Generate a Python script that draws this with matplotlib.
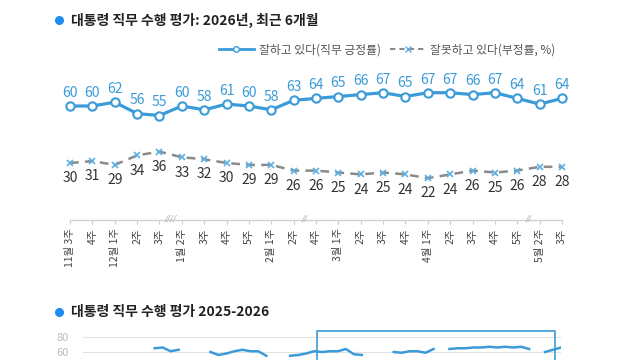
import numpy as np
import matplotlib
matplotlib.use("Agg")
import matplotlib.pyplot as plt
from matplotlib.lines import Line2D
from matplotlib.patches import Rectangle

plt.rcParams['font.family'] = ['Noto Sans CJK KR', 'DejaVu Sans']

# ---- data ----
week_labels = ["11월 3주", "4주", "12월 1주", "2주", "3주",
               "1월 2주", "3주", "4주", "5주", "2월 1주",
               "2주", "4주", "3월 1주", "2주", "3주", "4주",
               "4월 1주", "2주", "3주", "4주", "5주",
               "5월 2주", "3주"]
approve = [60, 60, 62, 56, 55, 60, 58, 61, 60, 58, 63, 64, 65, 66, 67, 65, 67, 67, 66, 67, 64, 61, 64]
disapprove = [30, 31, 29, 34, 36, 33, 32, 30, 29, 29, 26, 26, 25, 24, 25, 24, 22, 24, 26, 25, 26, 28, 28]
breaks = [(4.5, "////"), (10.5, "//"), (20.5, "//")]

title_top = "대통령 직무 수행 평가: 2026년, 최근 6개월"
title_bottom = "대통령 직무 수행 평가 2025-2026"
legend_labels = ["잘하고 있다(직무 긍정률)", "잘못하고 있다(부정률, %)"]

# long-term series (2025-2026), NaN = no survey
long_vals = [np.nan] * 61
for i, v in zip(range(9, 13), [65, 66, 61, 63]):
    long_vals[i] = v
for i, v in zip(range(16, 24), [60, 56, 58, 61, 63, 61, 61, 55]):
    long_vals[i] = v
for i, v in zip(range(26, 36), [55, 56, 58, 61, 60, 61, 61, 64, 57, 56]):
    long_vals[i] = v
for i, v in zip(range(39, 45), [60, 59, 61, 61, 59, 64]):
    long_vals[i] = v
for i, v in zip(range(46, 57), [64, 65, 65, 66, 66, 67, 66, 67, 66, 67, 64]):
    long_vals[i] = v
for i, v in zip(range(58, 61), [60, 63, 66]):
    long_vals[i] = v
long_ticks = [60, 80]
box_range = (29.4, 59.3)

BLUE = "#3b9bd8"
DOT = "#1e8cf0"
GRAY = "#8a8a8a"

W, H = 640, 360
fig = plt.figure(figsize=(6.4, 3.6), dpi=100)

def fx(px):
    return px / W

def fy(py):
    return 1 - py / H

# ---- titles ----
fig.add_artist(Line2D([fx(59)], [fy(20)], marker='o', markersize=5.5, color=DOT,
                      transform=fig.transFigure))
fig.text(fx(71), fy(20), title_top, fontsize=10, fontweight='bold', color='#222222',
         va='center', ha='left')
fig.add_artist(Line2D([fx(59)], [fy(312)], marker='o', markersize=5.5, color=DOT,
                      transform=fig.transFigure))
fig.text(fx(71), fy(312), title_bottom, fontsize=10, fontweight='bold', color='#222222',
         va='center', ha='left')

# ---- main chart ----
ax = fig.add_axes([fx(65), fy(220), (567 - 65) / W, (220 - 68) / H])
x = np.arange(len(approve))
ax.set_xlim(-0.224, len(approve) - 1 + 0.224)
ax.set_ylim(0, 80)

ax.plot(x, approve, color=BLUE, lw=2.3, marker='o', markersize=6,
        markerfacecolor='white', markeredgecolor=BLUE, markeredgewidth=1.5, zorder=3)
ax.plot(x, disapprove, color=GRAY, lw=1.8, ls=(0, (3.5, 2.5)), zorder=2)
ax.plot(x, disapprove, ls='none', marker='x', markersize=4.5, color='#5ab0e6',
        markeredgewidth=1.2, zorder=3)

for xi, v in zip(x, approve):
    ax.annotate(str(v), (xi, v), xytext=(0, 9.5), textcoords='offset points',
                ha='center', va='center', fontsize=10, color=BLUE)
for xi, v in zip(x, disapprove):
    ax.annotate(str(v), (xi, v), xytext=(0, -11), textcoords='offset points',
                ha='center', va='center', fontsize=10, color='#333333')

for s in ax.spines.values():
    s.set_visible(False)
ax.plot([0, len(approve) - 1], [0, 0], color='#d0d0d0', lw=1, clip_on=False)
ax.set_yticks([])
ax.set_xticks(x)
ax.set_xticklabels(week_labels, rotation=90, fontsize=7.5, color='#444444')
ax.tick_params(axis='x', length=3, width=0.8, color='#cfcfcf', pad=3)
for bx, txt in breaks:
    ax.text(bx, 0.6, txt, ha='center', va='center', fontsize=6.5, color='#b5b5b5',
            style='italic', family='DejaVu Sans')

# legend
handles = [
    Line2D([], [], color=BLUE, lw=2, marker='o', markersize=4,
           markerfacecolor='white', markeredgecolor=BLUE, markevery=[1]),
    Line2D([], [], color=GRAY, lw=1.5, ls=(0, (2.5, 2)), marker='x', markersize=4,
           markeredgecolor='#5ab0e6', markevery=[1]),
]
for h in handles:
    h.set_data([0, 0.5, 1], [0, 0, 0])
leg = fig.legend(handles, legend_labels, loc='center', bbox_to_anchor=(fx(387), fy(50)),
                 ncol=2, frameon=False, fontsize=8.5, handlelength=3,
                 handletextpad=0.4, columnspacing=0.8, labelcolor='#555555')

# ---- bottom chart ----
ax2 = fig.add_axes([fx(83), fy(397), (561 - 83) / W, (397 - 329.5) / H])
ax2.set_xlim(0, 60)
ax2.set_ylim(0, 90)
xl = np.arange(len(long_vals))
ax2.plot(xl, long_vals, color=BLUE, lw=1.8, zorder=3)
for s in ax2.spines.values():
    s.set_visible(False)
ax2.set_yticks(long_ticks)
ax2.set_yticklabels([str(t) for t in long_ticks], fontsize=8, color='#bbbbbb')
ax2.tick_params(axis='y', length=0, pad=10)
ax2.set_xticks([])
ax2.grid(axis='y', color='#e3e3e3', lw=0.8)
ax2.add_patch(Rectangle((box_range[0], -10), box_range[1] - box_range[0], 98,
                        fill=False, edgecolor=BLUE, lw=1.2, clip_on=False, zorder=4))

fig.savefig("out.png", dpi=100)
